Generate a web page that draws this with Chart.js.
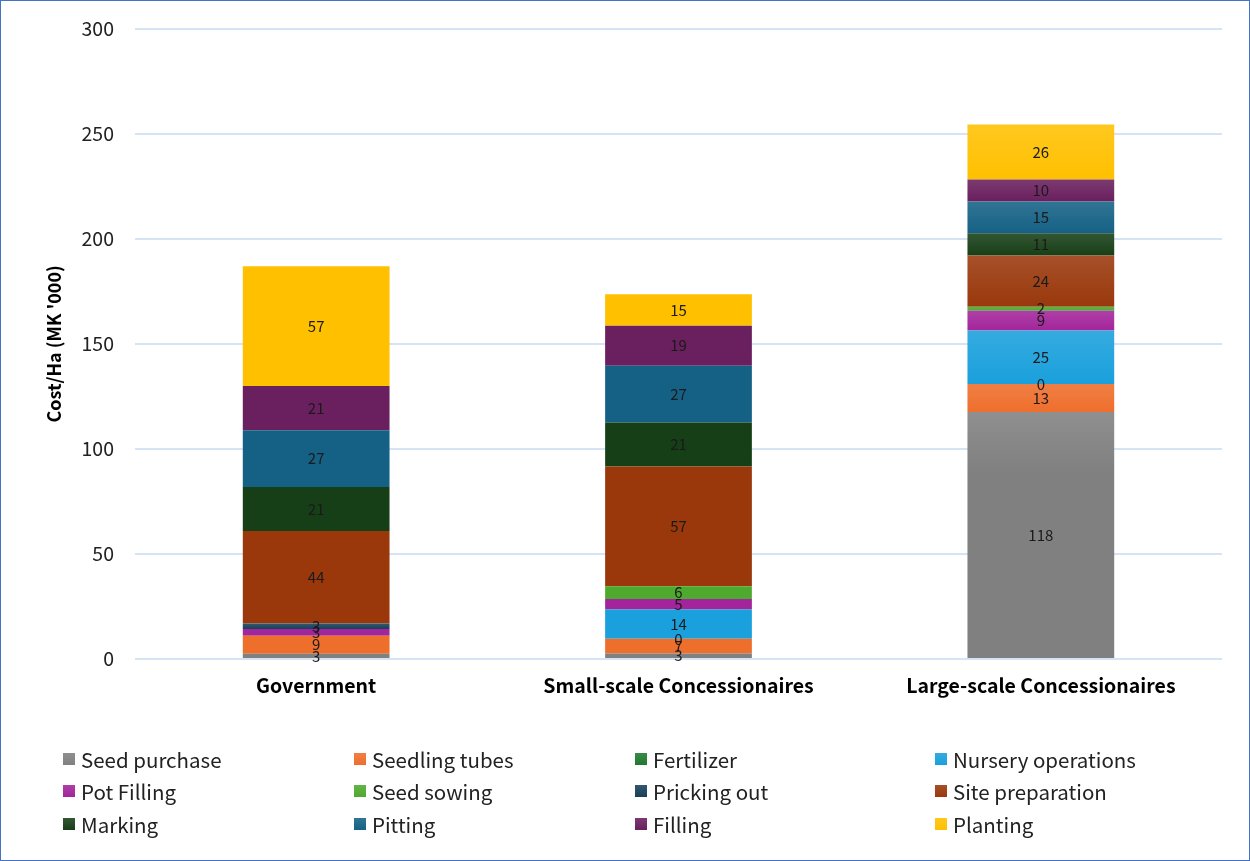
<!DOCTYPE html>
<html>
<head>
<meta charset="utf-8">
<script src="https://cdn.jsdelivr.net/npm/chart.js@4.4.1/dist/chart.umd.min.js"></script>
<style>
  html, body { margin: 0; padding: 0; background: #fff; }
  #frame { position: relative; width: 1248px; height: 859px; border: 1px solid #4472C4; overflow: hidden; font-family: "Noto Sans CJK JP", "Noto Sans", sans-serif; }
  #wrap { position: absolute; left: -1px; top: -5px; width: 1250px; height: 720px; }
  #legend { position: absolute; left: 0; top: 0; width: 1250px; height: 861px; pointer-events: none; }
  .li { position: absolute; display: flex; align-items: center; font-size: 20.5px; color: #222; white-space: nowrap; transform: translateY(-50%); }
  .sw { width: 12px; height: 12px; margin-right: 6px; }
</style>
</head>
<body>
<div id="frame">
  <div id="wrap"><canvas id="c" width="1250" height="720"></canvas></div>
  <div id="legend"></div>
</div>
<script>
const categories = ["Government", "Small-scale Concessionaires", "Large-scale Concessionaires"];
const seriesNames = ["Seed purchase", "Seedling tubes", "Fertilizer", "Nursery operations", "Pot Filling", "Seed sowing", "Pricking out", "Site preparation", "Marking", "Pitting", "Filling", "Planting"];
const seedPurchase      = [2.5, 2.6, 117.6];
const seedlingTubes     = [8.6, 7, 13.3];
const fertilizer        = [null, 0, 0];
const nurseryOperations = [null, 14, 25.4];
const potFilling        = [3.2, 5, 9.4];
const seedSowing        = [null, 6, 2];
const prickingOut       = [2.6, null, null];
const sitePreparation   = [44, 57, 24.3];
const marking           = [21, 21, 10.6];
const pitting           = [27, 27, 15.2];
const filling           = [21, 19, 10.4];
const planting          = [57, 15, 26.2];
const yTicks = [0, 50, 100, 150, 200, 250, 300];
const colors = ["#808080", "#EE6E2C", "#1F7A30", "#1AA0DC", "#A3259B", "#4EAA2E", "#17405A", "#9A380C", "#173F17", "#156185", "#6A1F5E", "#FFC000"];

const allSeries = [seedPurchase, seedlingTubes, fertilizer, nurseryOperations, potFilling, seedSowing, prickingOut, sitePreparation, marking, pitting, filling, planting];

const datasets = allSeries.map((d, i) => ({
  label: seriesNames[i],
  data: d,
  backgroundColor: colors[i],
  borderWidth: 0,
  categoryPercentage: 1,
  barPercentage: 0.405
}));

function lighten(hex, f) {
  const n = parseInt(hex.slice(1), 16);
  let r = (n >> 16) & 255, g = (n >> 8) & 255, b = n & 255;
  r = Math.round(r + (255 - r) * f); g = Math.round(g + (255 - g) * f); b = Math.round(b + (255 - b) * f);
  return 'rgb(' + r + ',' + g + ',' + b + ')';
}

const gradPlugin = {
  id: 'segGrad',
  beforeDatasetsDraw(chart) {
    const ctx = chart.ctx;
    chart.data.datasets.forEach((ds, di) => {
      const meta = chart.getDatasetMeta(di);
      meta.data.forEach((el) => {
        const top = Math.min(el.y, el.base), bot = Math.max(el.y, el.base);
        if (bot - top < 0.5) return;
        const g = ctx.createLinearGradient(0, top, 0, Math.min(bot, top + 60));
        g.addColorStop(0, lighten(colors[di], 0.12));
        g.addColorStop(1, colors[di]);
        el.options.backgroundColor = g;
      });
    });
  }
};

const labelPlugin = {
  id: 'segLabels',
  afterDatasetsDraw(chart) {
    const ctx = chart.ctx;
    ctx.save();
    ctx.font = '15px "Noto Sans CJK JP", "Noto Sans", sans-serif';
    ctx.fillStyle = '#1a1a1a';
    ctx.textAlign = 'center';
    ctx.textBaseline = 'middle';
    chart.data.datasets.forEach((ds, di) => {
      const meta = chart.getDatasetMeta(di);
      meta.data.forEach((el, i) => {
        const v = ds.data[i];
        if (v === null || v === undefined) return;
        ctx.fillText(String(Math.round(v)), el.x, (el.y + el.base) / 2);
      });
    });
    ctx.restore();
  }
};

new Chart(document.getElementById('c'), {
  type: 'bar',
  data: { labels: categories, datasets },
  options: {
    responsive: false,
    animation: false,
    layout: { padding: { top: 25, right: 28, left: 43, bottom: 0 } },
    plugins: { legend: { display: false }, tooltip: { enabled: false } },
    scales: {
      x: {
        stacked: true,
        grid: { display: false },
        border: { display: false },
        ticks: { color: '#000', font: { size: 19.5, weight: 'bold', family: '"Noto Sans CJK JP", "Noto Sans", sans-serif' }, padding: 7 },
        afterFit(s) { s.height = 57; }
      },
      y: {
        stacked: true,
        min: 0, max: 300,
        afterBuildTicks(s) { s.ticks = yTicks.map(v => ({ value: v })); },
        grid: { color: '#D5E3F4', lineWidth: 2, drawTicks: false },
        border: { display: false },
        ticks: { color: '#222', font: { size: 19.5, family: '"Noto Sans CJK JP", "Noto Sans", sans-serif' }, padding: 21 },
        title: { display: true, text: "Cost/Ha (MK '000)", color: '#000', font: { size: 18, weight: 'bold', family: '"Noto Sans CJK JP", "Noto Sans", sans-serif' }, padding: { top: 0, bottom: 0 } },
        afterFit(s) { s.width = 92; }
      }
    }
  },
  plugins: [gradPlugin, labelPlugin]
});

const legendEl = document.getElementById('legend');
const colX = [62, 353, 634, 934];
const rowY = [758, 790, 823];
seriesNames.forEach((n, i) => {
  const d = document.createElement('div');
  d.className = 'li';
  d.style.left = colX[i % 4] + 'px';
  d.style.top = rowY[Math.floor(i / 4)] + 'px';
  d.innerHTML = '<span class="sw" style="background:linear-gradient(' + lighten(colors[i], 0.12) + ',' + colors[i] + ')"></span>';
  const t = document.createElement('span');
  t.textContent = n;
  d.appendChild(t);
  legendEl.appendChild(d);
});
</script>
</body>
</html>
